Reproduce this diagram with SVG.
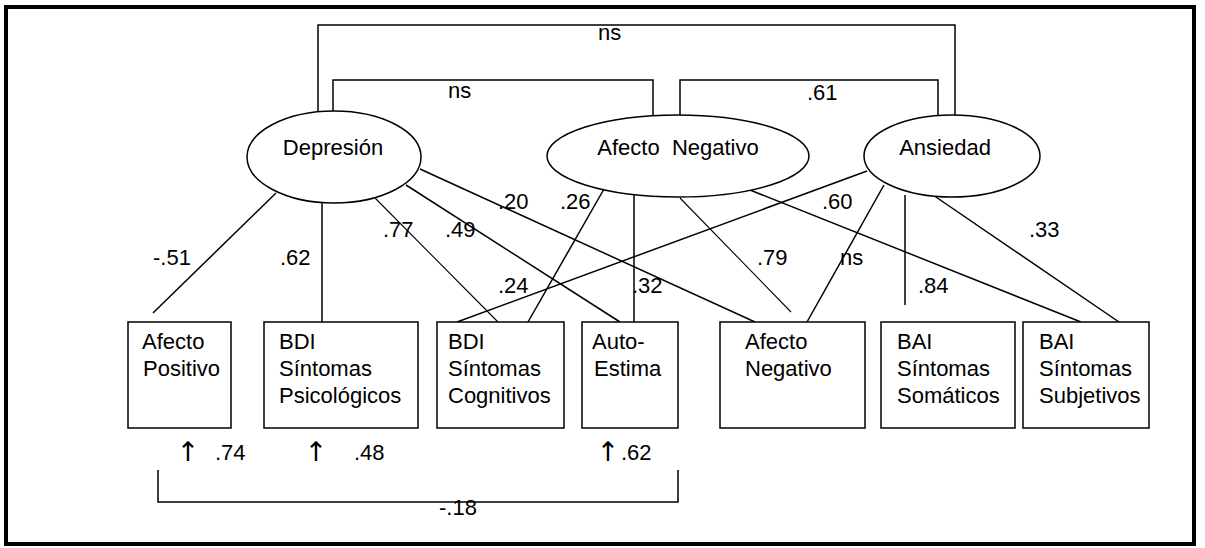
<svg xmlns="http://www.w3.org/2000/svg" width="1205" height="548" viewBox="0 0 1205 548">
  <style>
    text { font-family: "Liberation Sans", Arial, sans-serif; font-size: 22px; fill: #000; }
    .arrow { font-family: "DejaVu Sans", sans-serif; font-size: 27px; fill: #000; }
    .node { fill: #fff; stroke: #000; stroke-width: 1.5; }
    .link { fill: none; stroke: #000; stroke-width: 1.5; }
    .thin { stroke-width: 1.1; }
  </style>
  <rect x="0" y="0" width="1205" height="548" fill="#fff"/>
  <!-- outer frame -->
  <rect x="6" y="7" width="1188" height="537" fill="none" stroke="#000" stroke-width="4"/>

  <!-- connectors -->
  <g id="connectors">
    <!-- correlations between latent factors -->
    <path class="link" d="M318,112 V25 H955 V115"/>
    <path class="link" d="M333,111 V80 H653 V115"/>
    <path class="link" d="M680,115 V80 H938 V116"/>
    <!-- Depresión loadings -->
    <line class="link" x1="276" y1="193" x2="153" y2="313"/>
    <line class="link" x1="322" y1="203" x2="322" y2="322"/>
    <line class="link thin" x1="375" y1="198" x2="498" y2="322"/>
    <line class="link" x1="406" y1="185" x2="620" y2="322"/>
    <line class="link" x1="420" y1="169" x2="755" y2="322"/>
    <!-- Afecto Negativo loadings -->
    <line class="link" x1="604" y1="189" x2="528" y2="322"/>
    <line class="link" x1="634" y1="195" x2="634" y2="322"/>
    <line class="link thin" x1="680" y1="198" x2="791" y2="312"/>
    <line class="link" x1="750" y1="190" x2="1081" y2="322"/>
    <!-- Ansiedad loadings -->
    <line class="link" x1="867" y1="171" x2="457" y2="322"/>
    <line class="link" x1="884" y1="185" x2="807" y2="322"/>
    <line class="link" x1="905" y1="195" x2="905" y2="305"/>
    <line class="link" x1="933" y1="195" x2="1119" y2="322"/>
    <!-- residual correlation -->
    <path class="link" d="M158,470 V502 H678 V470"/>
  </g>

  <!-- coefficients -->
  <g id="labels">
    <text x="598" y="40">ns</text>
    <text x="448" y="98">ns</text>
    <text x="807" y="100">.61</text>
    <text x="153" y="265">-.51</text>
    <text x="280" y="265">.62</text>
    <text x="383" y="237">.77</text>
    <text x="445" y="237">.49</text>
    <text x="498" y="209">.20</text>
    <text x="560" y="209">.26</text>
    <text x="498" y="293">.24</text>
    <text x="632" y="293">.32</text>
    <text x="757" y="265">.79</text>
    <text x="822" y="209">.60</text>
    <text x="840" y="265">ns</text>
    <text x="918" y="293">.84</text>
    <text x="1029" y="237">.33</text>
    <text class="arrow" x="188" y="461" text-anchor="middle">↑</text>
    <text x="215" y="460">.74</text>
    <text class="arrow" x="316" y="461" text-anchor="middle">↑</text>
    <text x="354" y="460">.48</text>
    <text class="arrow" x="608" y="461" text-anchor="middle">↑</text>
    <text x="621" y="460">.62</text>
    <text x="439" y="515">-.18</text>
  </g>

  <!-- latent factors -->
  <g id="depresion">
    <ellipse class="node" cx="334" cy="157" rx="87" ry="46"/>
    <text x="333" y="155" text-anchor="middle">Depresión</text>
  </g>
  <g id="afecto-negativo-factor">
    <ellipse class="node" cx="678" cy="156" rx="131" ry="41"/>
    <text x="678" y="155" text-anchor="middle" xml:space="preserve">Afecto  Negativo</text>
  </g>
  <g id="ansiedad">
    <ellipse class="node" cx="952" cy="156" rx="88" ry="41"/>
    <text x="945" y="155" text-anchor="middle">Ansiedad</text>
  </g>

  <!-- observed measures -->
  <g id="afecto-positivo">
    <rect class="node" x="128" y="322" width="103" height="106"/>
    <text x="142" y="349">Afecto</text>
    <text x="143" y="376">Positivo</text>
  </g>
  <g id="bdi-psicologicos">
    <rect class="node" x="264" y="322" width="154" height="106"/>
    <text x="279" y="349">BDI</text>
    <text x="279" y="376">Síntomas</text>
    <text x="279" y="403">Psicológicos</text>
  </g>
  <g id="bdi-cognitivos">
    <rect class="node" x="437" y="322" width="127" height="106"/>
    <text x="448" y="349">BDI</text>
    <text x="448" y="376">Síntomas</text>
    <text x="448" y="403">Cognitivos</text>
  </g>
  <g id="auto-estima">
    <rect class="node" x="582" y="322" width="96" height="106"/>
    <text x="592" y="349">Auto-</text>
    <text x="594" y="376">Estima</text>
  </g>
  <g id="afecto-negativo">
    <rect class="node" x="720" y="322" width="145" height="106"/>
    <text x="745" y="349">Afecto</text>
    <text x="745" y="376">Negativo</text>
  </g>
  <g id="bai-somaticos">
    <rect class="node" x="881" y="322" width="134" height="106"/>
    <text x="897" y="349">BAI</text>
    <text x="897" y="376">Síntomas</text>
    <text x="897" y="403">Somáticos</text>
  </g>
  <g id="bai-subjetivos">
    <rect class="node" x="1023" y="322" width="126" height="106"/>
    <text x="1039" y="349">BAI</text>
    <text x="1039" y="376">Síntomas</text>
    <text x="1039" y="403">Subjetivos</text>
  </g>
</svg>
